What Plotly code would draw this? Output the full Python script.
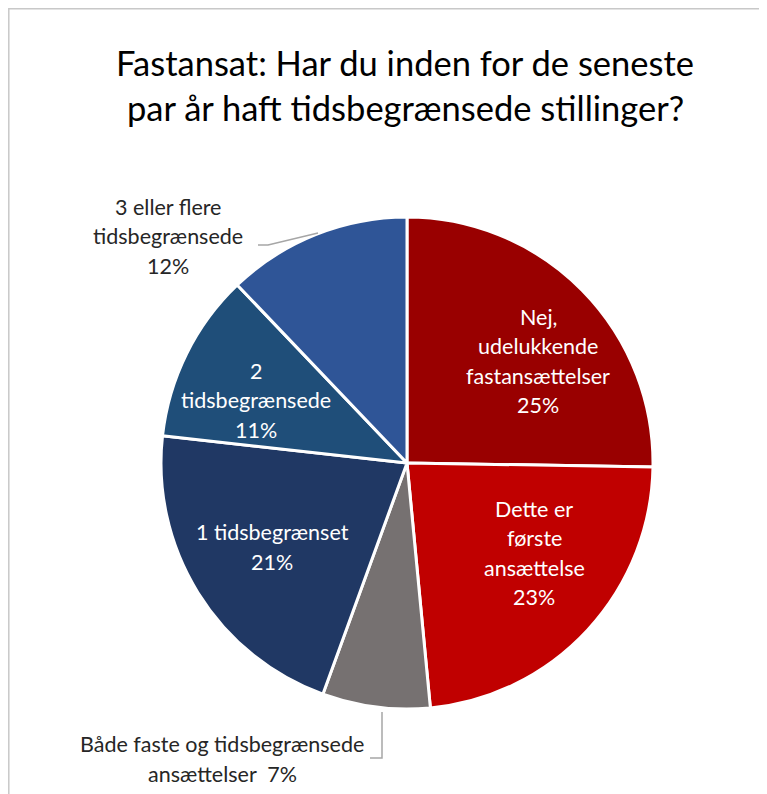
import plotly.graph_objects as go

W, H = 767, 794
OFF = 8  # page body margin in the browser

# data
labels = [
    "Nej, udelukkende fastansættelser",
    "Dette er første ansættelse",
    "Både faste og tidsbegrænsede ansættelser",
    "1 tidsbegrænset",
    "2 tidsbegrænsede",
    "3 eller flere tidsbegrænsede",
]
values = [25, 23, 7, 21, 11, 12]
colors = ["#990000", "#C00000", "#767171", "#203864", "#1F4E79", "#2F5597"]

# how each label is broken into lines (last line gets the percentage)
label_lines = [
    ["Nej,", "udelukkende", "fastansættelser"],
    ["Dette er", "første", "ansættelse"],
    ["Både faste og tidsbegrænsede", "ansættelser  {p}"],
    ["1 tidsbegrænset"],
    ["2", "tidsbegrænsede"],
    ["3 eller flere", "tidsbegrænsede"],
]
# label centre in pixels, text colour
label_pos = [(538, 361), (534, 553), (222, 759), (272, 547), (256, 400), (168, 236)]
label_col = ["white", "white", "#262626", "white", "white", "#262626"]

FONT = "Lato"
LINE_H = 29.5


def px(x, y):
    return (x - OFF) / W, 1 - (y - OFF) / H


total = sum(values)
annotations = []
for lines, (lx, ly), col, v in zip(label_lines, label_pos, label_col, values):
    pct = f"{round(v / total * 100)}%"
    if any("{p}" in s for s in lines):
        rows = [s.replace("{p}", pct) for s in lines]
    else:
        rows = lines + [pct]
    y0 = ly - LINE_H * (len(rows) - 1) / 2
    for i, s in enumerate(rows):
        x, y = px(lx, y0 + i * LINE_H)
        annotations.append(dict(
            x=x, y=y, xref="paper", yref="paper", text=s, showarrow=False,
            xanchor="center", yanchor="middle",
            font=dict(family=FONT, size=21.5, color=col)))

# title
for s, ty in [("Fastansat: Har du inden for de seneste", 62),
              ("par år haft tidsbegrænsede stillinger?", 107)]:
    x, y = px(405, ty)
    annotations.append(dict(
        x=x, y=y, xref="paper", yref="paper", text=s, showarrow=False,
        xanchor="center", yanchor="middle",
        font=dict(family=FONT, size=34.5, color="#000000")))

# pie geometry (pixels)
cx, cy, r = 407 - OFF, 463 - OFF, 246
dom_x = [(cx - r) / W, (cx + r) / W]
dom_y = [(H - cy - r) / H, (H - cy + r) / H]

fig = go.Figure(go.Pie(
    labels=labels,
    values=values,
    sort=False,
    direction="clockwise",
    rotation=0,
    marker=dict(colors=colors, line=dict(color="white", width=3)),
    textinfo="none",
    hoverinfo="label+percent",
    domain=dict(x=dom_x, y=dom_y),
    showlegend=False,
))


def seg(pts):
    path = ""
    for i, (x, y) in enumerate(pts):
        xx, yy = px(x, y)
        path += ("M" if i == 0 else " L") + f" {xx} {yy}"
    return dict(type="path", path=path, xref="paper", yref="paper",
                line=dict(color="#A6A6A6", width=1.5))


shapes = [
    # chart area border (as close to the page edge as the body margin allows)
    dict(type="rect", xref="paper", yref="paper",
         x0=0.8 / W, x1=1.05, y0=-0.05, y1=1 - 0.8 / H,
         line=dict(color="#C8C8C8", width=1.5)),
    seg([(258, 245), (268, 245), (318, 233)]),
    seg([(370, 758), (382, 758), (382, 712)]),
]

fig.update_layout(
    width=W, height=H,
    margin=dict(l=0, r=0, t=0, b=0),
    paper_bgcolor="white",
    plot_bgcolor="white",
    annotations=annotations,
    shapes=shapes,
)

fig.write_html("out.html")
